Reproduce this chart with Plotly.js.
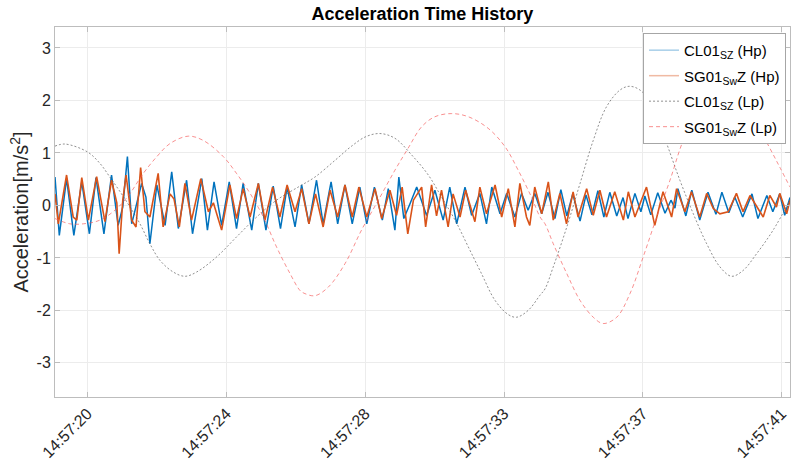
<!DOCTYPE html>
<html>
<head>
<meta charset="utf-8">
<script src="https://cdn.plot.ly/plotly-3.0.1.min.js"></script>
<style>
  html, body { margin: 0; padding: 0; background: #fff; }
  #chart { width: 791px; height: 462px; }
</style>
</head>
<body>
<div id="chart"></div>
<script>
// Time axis: seconds after 14:57:00
const tickTimes  = [20.5, 24.7, 28.9, 33.1, 37.3, 41.5];
const tickLabels = ['14:57:20', '14:57:24', '14:57:28', '14:57:33', '14:57:37', '14:57:41'];
const accTicks   = [-3, -2, -1, 0, 1, 2, 3];
const accLabels  = ['-3', '-2', '-1', '0', '1', '2', '3'];

// CL01 SZ, high-pass component
const clHpTime = [19.52,19.65,19.87,20.09,20.33,20.56,20.76,21.00,21.23,21.43,21.57,21.71,21.84,21.97,22.14,22.27,22.39,22.60,22.85,23.05,
  23.25,23.50,23.68,23.96,24.13,24.33,24.56,24.79,25.01,25.21,25.47,25.67,25.90,26.12,26.34,26.54,26.78,26.98,27.20,27.43,
  27.63,27.87,28.07,28.29,28.51,28.74,28.95,29.18,29.42,29.60,29.80,29.92,30.07,30.27,30.46,30.76,31.01,31.26,31.46,31.67,
  31.92,32.12,32.37,32.57,32.73,32.98,33.18,33.43,33.63,33.83,34.03,34.24,34.43,34.64,34.82,35.00,35.18,35.40,35.58,35.76,
  35.94,36.12,36.30,36.51,36.70,36.85,37.06,37.24,37.36,37.54,37.75,37.97,38.15,38.27,38.36,38.60,38.78,39.02,39.27,39.51,
  39.69,39.90,40.08,40.32,40.60,40.78,41.05,41.23,41.44,41.59,41.75];
const clHpAcc = [0.54,-0.57,0.51,-0.57,0.45,-0.54,0.53,-0.54,0.58,-0.38,-0.03,0.93,-0.35,0.00,0.42,0.16,-0.73,0.39,-0.38,0.64,
  -0.44,0.48,-0.54,0.51,-0.47,0.45,-0.38,0.45,-0.44,0.42,-0.47,0.42,-0.47,0.37,-0.44,0.35,-0.41,0.39,-0.35,0.48,
  -0.35,0.45,-0.35,0.39,-0.35,0.35,-0.35,0.35,-0.28,0.32,-0.47,0.54,-0.25,0.05,0.35,-0.19,0.29,-0.28,0.35,-0.35,
  0.35,-0.19,0.23,-0.35,0.35,-0.16,0.23,-0.22,0.23,-0.09,0.23,-0.16,0.25,-0.25,0.30,-0.20,0.22,-0.30,0.20,-0.18,
  0.28,-0.22,0.25,-0.20,0.15,-0.25,0.23,-0.12,0.18,-0.18,0.24,-0.15,0.10,-0.05,0.32,-0.20,0.29,-0.28,0.25,-0.17,
  0.25,-0.14,0.16,-0.22,0.22,-0.25,0.19,-0.12,0.22,-0.19,0.15];

// SG01 SwZ, high-pass component
const sgHpTime = [19.52,19.62,19.87,20.07,20.18,20.33,20.53,20.78,21.03,21.23,21.39,21.46,21.57,21.67,21.84,21.97,22.11,22.24,22.39,22.64,
  22.79,23.00,23.12,23.28,23.45,23.65,23.93,24.16,24.31,24.56,24.81,25.01,25.21,25.42,25.67,25.87,26.10,26.32,26.54,26.78,
  26.98,27.20,27.40,27.63,27.84,28.07,28.29,28.51,28.71,28.95,29.20,29.40,29.65,29.85,30.02,30.19,30.36,30.61,30.73,30.91,
  31.06,31.21,31.41,31.56,31.77,31.94,32.22,32.37,32.57,32.83,33.03,33.23,33.43,33.58,33.78,33.88,34.03,34.24,34.44,34.59,
  34.79,34.99,35.19,35.34,35.60,35.80,36.00,36.20,36.45,36.71,36.86,37.06,37.41,37.66,37.91,38.17,38.32,38.57,38.77,39.02,
  39.23,39.43,39.63,39.88,40.13,40.33,40.54,40.79,40.94,41.14,41.34,41.44,41.65,41.75];
const sgHpAcc = [0.22,-0.35,0.58,-0.22,-0.28,0.53,-0.28,0.55,-0.31,0.48,0.05,-0.92,0.10,0.58,-0.28,-0.41,0.72,-0.12,-0.22,0.61,
  -0.41,0.22,0.12,-0.41,0.42,-0.28,0.51,-0.12,0.05,-0.47,0.39,-0.25,0.32,-0.22,0.42,-0.28,0.35,-0.22,0.39,-0.12,
  0.32,-0.35,0.22,-0.41,0.29,-0.22,0.39,-0.22,0.35,-0.22,0.32,-0.25,0.29,-0.19,0.35,-0.54,0.10,0.35,-0.41,0.39,
  -0.20,0.29,-0.41,0.22,-0.22,0.29,-0.31,0.35,-0.16,0.39,-0.22,0.32,-0.41,0.42,-0.22,-0.38,0.35,-0.16,0.45,-0.28,
  0.23,-0.35,0.26,-0.22,0.32,-0.19,0.29,-0.22,0.26,-0.28,0.26,-0.22,0.35,-0.38,0.26,-0.22,0.32,-0.12,0.26,-0.22,
  0.23,-0.06,-0.16,-0.12,0.23,-0.12,0.19,-0.06,-0.22,0.19,-0.03,0.23,-0.16,0.10];

// CL01 SZ, low-pass component
const clLpTime = [19.52,19.82,20.50,20.88,21.18,21.49,21.79,22.09,22.39,22.70,23.10,23.45,23.80,24.41,25.01,25.62,26.22,26.93,27.38,27.99,
  28.49,28.92,29.35,29.80,30.31,30.81,31.21,31.62,32.02,32.42,32.83,33.23,33.48,33.83,34.19,34.34,34.59,35.00,35.40,35.80,
  36.20,36.61,36.89,37.21,37.61,38.02,38.42,38.82,39.23,39.63,39.98,40.33,40.74,41.24,41.75];
const clLpAcc = [1.13,1.17,1.02,0.80,0.54,0.26,-0.03,-0.35,-0.73,-1.05,-1.27,-1.35,-1.27,-0.98,-0.60,-0.22,0.10,0.37,0.54,0.86,
  1.13,1.31,1.37,1.28,0.96,0.58,0.16,-0.28,-0.79,-1.30,-1.81,-2.08,-2.13,-2.00,-1.71,-1.59,-1.17,-0.41,0.42,1.24,
  1.88,2.20,2.27,2.20,1.88,1.18,0.48,-0.15,-0.73,-1.17,-1.35,-1.24,-0.92,-0.47,0.10];

// SG01 SwZ, low-pass component
const sgLpTime = [19.52,19.97,20.38,20.88,21.39,21.79,22.19,22.60,23.00,23.55,24.00,24.61,25.01,25.42,25.82,26.22,26.63,26.93,27.08,27.38,
  27.78,28.29,28.79,29.30,29.80,30.20,30.61,31.01,31.52,32.02,32.62,33.13,33.53,33.93,34.19,34.34,34.59,35.00,35.40,35.80,
  36.10,36.51,36.91,37.31,37.72,38.12,38.52,39.02,39.63,40.08,40.53,41.04,41.44,41.75];
const sgLpAcc = [-0.25,-0.35,-0.35,-0.28,-0.06,0.23,0.61,0.93,1.18,1.32,1.24,0.93,0.61,0.23,-0.22,-0.79,-1.30,-1.62,-1.68,-1.72,
  -1.56,-1.11,-0.47,0.10,0.67,1.09,1.50,1.69,1.75,1.69,1.47,1.12,0.67,0.16,-0.22,-0.35,-0.73,-1.30,-1.81,-2.13,
  -2.25,-2.13,-1.68,-0.98,-0.22,0.48,1.24,1.90,2.20,2.10,1.80,1.21,0.73,0.35];

const BLUE = '#0072BD', ORANGE = '#D95319';

const traces = [
  { x: clHpTime, y: clHpAcc, type: 'scatter', mode: 'lines', showlegend: false, hoverinfo: 'skip',
    line: { color: BLUE, width: 1.5 } },
  { x: sgHpTime, y: sgHpAcc, type: 'scatter', mode: 'lines', showlegend: false, hoverinfo: 'skip',
    line: { color: ORANGE, width: 1.6 } },
  // legend keys for the translucent high-pass lines
  { x: [null], y: [null], type: 'scatter', mode: 'lines', name: 'CL01<sub>SZ</sub> (Hp)', legendgroup: 'a',
    line: { color: 'rgba(0,114,189,0.35)', width: 1.5 } },
  { x: [null], y: [null], type: 'scatter', mode: 'lines', name: 'SG01<sub>Sw</sub>Z (Hp)', legendgroup: 'b',
    line: { color: 'rgba(217,83,25,0.4)', width: 1.5 } },
  { x: clLpTime, y: clLpAcc, type: 'scatter', mode: 'lines', name: 'CL01<sub>SZ</sub> (Lp)', hoverinfo: 'skip',
    legendgroup: 'c',
    line: { color: 'rgba(90,90,90,0.75)', width: 0.9, dash: '2px,2px', shape: 'spline' } },
  { x: sgLpTime, y: sgLpAcc, type: 'scatter', mode: 'lines', name: 'SG01<sub>Sw</sub>Z (Lp)', hoverinfo: 'skip',
    legendgroup: 'd',
    line: { color: 'rgba(245,90,90,0.75)', width: 0.9, dash: '4px,3px', shape: 'spline' } }
];

const axisCommon = {
  showline: true, linecolor: '#bdbdbd', linewidth: 1, mirror: 'ticks',
  ticks: 'inside', ticklen: 5, tickcolor: '#bdbdbd',
  showgrid: true, gridcolor: '#ececec', gridwidth: 1, zeroline: false,
  tickfont: { size: 16, color: '#262626' }
};

const layout = {
  width: 791, height: 462,
  margin: { l: 55, r: 1, t: 27, b: 65 },
  paper_bgcolor: '#fff', plot_bgcolor: '#fff',
  font: { family: '"Liberation Sans", Arial, Helvetica, sans-serif', color: '#262626' },
  title: { text: '<b>Acceleration Time History</b>', font: { size: 18, color: '#000' },
           x: 0.534, xanchor: 'center', y: 0.97, yanchor: 'middle' },
  xaxis: Object.assign({}, axisCommon, {
    range: [19.52, 41.75], tickmode: 'array', tickvals: tickTimes, ticktext: tickLabels, tickangle: -45
  }),
  yaxis: Object.assign({}, axisCommon, {
    range: [-3.65, 3.4], tickmode: 'array', tickvals: accTicks, ticktext: accLabels,
    title: { text: 'Acceleration[m/s<sup>2</sup>]', font: { size: 20, color: '#262626' }, standoff: 2 }
  }),
  legend: {
    x: 0.9946, xanchor: 'right', y: 0.984, yanchor: 'top',
    bgcolor: '#fff', bordercolor: '#a6a6a6', borderwidth: 1,
    font: { size: 15, color: '#000' }, tracegroupgap: 3, itemwidth: 30
  },
  showlegend: true
};

Plotly.newPlot('chart', traces, layout, { displayModeBar: false, staticPlot: true });
</script>
</body>
</html>
